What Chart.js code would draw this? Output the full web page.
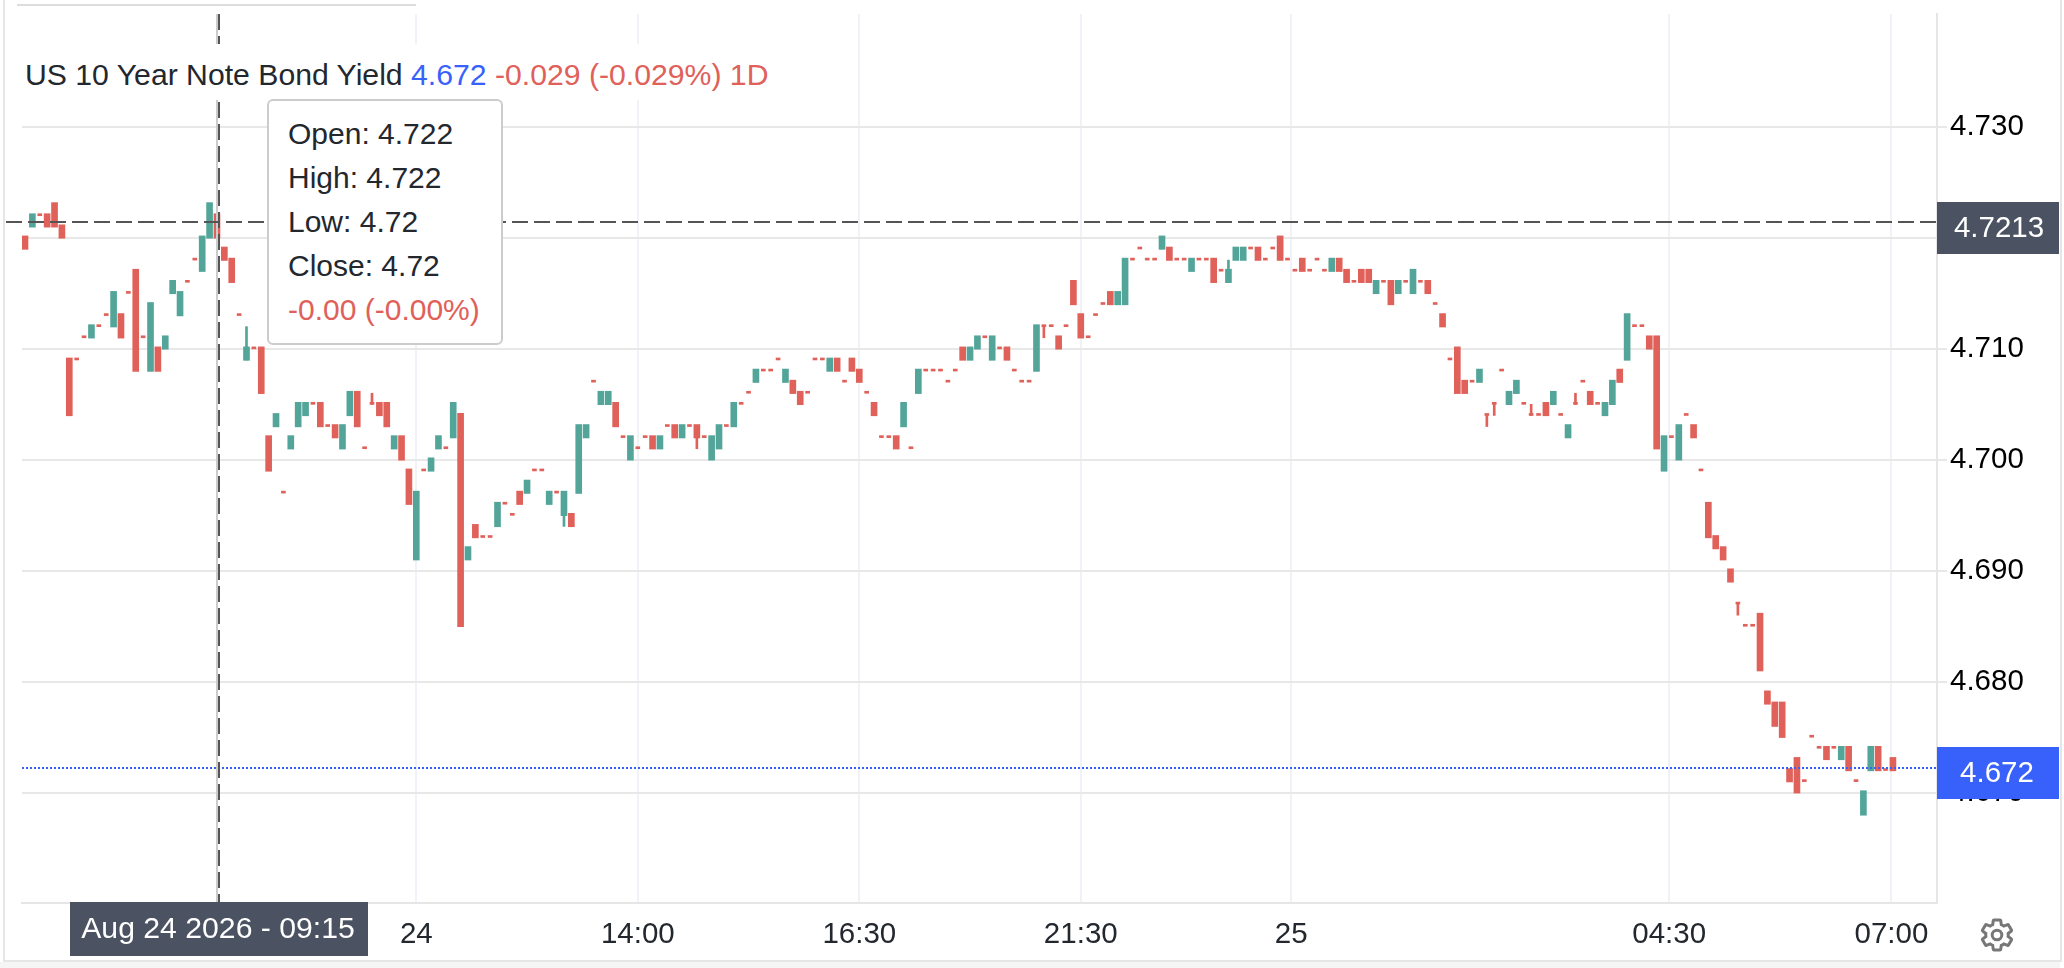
<!DOCTYPE html>
<html>
<head>
<meta charset="utf-8">
<title>US 10 Year Note Bond Yield</title>
<script src="https://cdn.jsdelivr.net/npm/chart.js@4/dist/chart.umd.min.js"></script>
<style>
  html, body { margin: 0; background: #fff; width: 2064px; height: 968px; overflow: hidden; }
  body { position: relative; font-family: "Liberation Sans", Arial, sans-serif; }
  canvas { position: absolute; left: 0; top: 0; }
  .frame { position: absolute; background: #e6e6e6; }
  #footer { position: absolute; left: 0; top: 962px; width: 2060px; height: 6px; background: #f5f5f5; }
  #title { position: absolute; left: 18px; top: 44px; width: 752px; height: 56px; line-height: 62px; padding-left: 7px;
           box-sizing: border-box; background: #fff; font-size: 30.2px; color: #23272e; white-space: nowrap; }
  #title .last { color: #3861fb; }
  #title .chg { color: #e0605a; }
  #tip { position: absolute; left: 267px; top: 99px; width: 236px; height: 246px; box-sizing: border-box; background: #fff;
         border: 2px solid #ccc; border-radius: 6px; padding: 11px 0 0 19px; font-size: 30px; line-height: 44px; color: #23272e; }
  #tip .chg { color: #e0605a; }
  #gear { position: absolute; left: 1979px; top: 917px; }
</style>
</head>
<body>
<canvas id="yieldChart" width="2064" height="968"></canvas>
<div class="frame" style="left:17px;top:4px;width:399px;height:2px;background:#ddd"></div>
<div class="frame" style="left:3px;top:0;width:2px;height:960px"></div>
<div class="frame" style="left:2060px;top:0;width:2px;height:960px"></div>
<div class="frame" style="left:3px;top:960px;width:2059px;height:2px"></div>
<div id="footer"></div>
<div id="title">US 10 Year Note Bond Yield <span class="last">4.672</span> <span class="chg">-0.029 (-0.029%) 1D</span></div>
<div id="tip">
  <div>Open: 4.722</div>
  <div>High: 4.722</div>
  <div>Low: 4.72</div>
  <div>Close: 4.72</div>
  <div class="chg">-0.00 (-0.00%)</div>
</div>
<svg id="gear" width="36" height="36" viewBox="0 0 24 24" fill="none" stroke="#777" stroke-width="2">
  <path d="M19.43 12.98c.04-.32.07-.64.07-.98s-.03-.66-.07-.98l2.11-1.65c.19-.15.24-.42.12-.64l-2-3.46c-.12-.22-.39-.3-.61-.22l-2.49 1c-.52-.4-1.08-.73-1.69-.98l-.38-2.65C14.46 2.18 14.25 2 14 2h-4c-.25 0-.46.18-.49.42l-.38 2.65c-.61.25-1.17.59-1.69.98l-2.49-1c-.23-.09-.49 0-.61.22l-2 3.46c-.13.22-.07.49.12.64l2.11 1.65c-.04.32-.07.65-.07.98s.03.66.07.98l-2.11 1.65c-.19.15-.24.42-.12.64l2 3.46c.12.22.39.3.61.22l2.49-1c.52.4 1.08.73 1.69.98l.38 2.65c.03.24.24.42.49.42h4c.25 0 .46-.18.49-.42l.38-2.65c.61-.25 1.17-.59 1.69-.98l2.49 1c.23.09.49 0 .61-.22l2-3.46c.12-.22.07-.49-.12-.64l-2.11-1.65z"/>
  <circle cx="12" cy="12" r="3.2"/>
</svg>
<script>
// 5 minute bars
const opens = [
  4.720,4.721,4.722,4.722,4.723,4.721,4.709,4.709,4.711,4.711,
  4.712,4.713,4.712,4.713,4.715,4.717,4.711,4.708,4.710,4.710,
  4.715,4.713,4.716,4.718,4.717,4.720,4.722,4.719,4.718,4.713,
  4.709,4.710,4.710,4.702,4.703,4.697,4.701,4.703,4.704,4.705,
  4.705,4.703,4.703,4.701,4.704,4.706,4.701,4.705,4.705,4.705,
  4.701,4.702,4.699,4.691,4.699,4.699,4.701,4.701,4.702,4.704,
  4.691,4.694,4.693,4.693,4.694,4.696,4.695,4.697,4.697,4.699,
  4.699,4.696,4.697,4.695,4.695,4.697,4.702,4.707,4.705,4.705,
  4.705,4.702,4.700,4.701,4.702,4.702,4.701,4.703,4.703,4.702,
  4.703,4.703,4.702,4.700,4.701,4.703,4.703,4.705,4.706,4.707,
  4.708,4.708,4.709,4.707,4.707,4.706,4.706,4.709,4.709,4.708,
  4.709,4.707,4.709,4.708,4.706,4.705,4.702,4.702,4.702,4.703,
  4.701,4.706,4.708,4.708,4.708,4.707,4.708,4.710,4.709,4.710,
  4.711,4.709,4.710,4.710,4.708,4.707,4.707,4.708,4.712,4.712,
  4.711,4.712,4.716,4.713,4.711,4.713,4.714,4.715,4.714,4.714,
  4.718,4.719,4.718,4.718,4.719,4.719,4.718,4.718,4.717,4.718,
  4.718,4.718,4.717,4.716,4.718,4.718,4.719,4.719,4.718,4.719,
  4.720,4.718,4.717,4.718,4.717,4.718,4.717,4.717,4.718,4.717,
  4.716,4.717,4.717,4.715,4.716,4.716,4.715,4.716,4.715,4.716,
  4.716,4.714,4.713,4.709,4.710,4.707,4.707,4.707,4.704,4.705,
  4.708,4.705,4.706,4.705,4.704,4.704,4.705,4.705,4.704,4.702,
  4.705,4.707,4.706,4.705,4.704,4.705,4.708,4.709,4.712,4.712,
  4.711,4.711,4.699,4.702,4.700,4.704,4.703,4.699,4.696,4.693,
  4.692,4.690,4.687,4.685,4.685,4.686,4.679,4.678,4.678,4.672,
  4.673,4.671,4.675,4.674,4.674,4.674,4.673,4.674,4.671,4.668,
  4.672,4.674,4.672,4.673
];
const closes = [
  4.719,4.722,4.722,4.721,4.721,4.720,4.704,4.709,4.711,4.712,
  4.712,4.713,4.715,4.711,4.715,4.708,4.711,4.714,4.708,4.711,
  4.716,4.715,4.716,4.718,4.720,4.723,4.720,4.718,4.716,4.713,
  4.710,4.710,4.706,4.699,4.704,4.697,4.702,4.705,4.705,4.705,
  4.703,4.703,4.702,4.703,4.706,4.703,4.701,4.705,4.704,4.703,
  4.702,4.700,4.696,4.697,4.699,4.700,4.702,4.701,4.705,4.685,
  4.692,4.693,4.693,4.693,4.696,4.696,4.695,4.696,4.698,4.699,
  4.699,4.697,4.697,4.697,4.694,4.703,4.703,4.707,4.706,4.706,
  4.703,4.702,4.702,4.701,4.702,4.701,4.702,4.703,4.702,4.703,
  4.703,4.702,4.702,4.702,4.703,4.703,4.705,4.705,4.706,4.708,
  4.708,4.708,4.709,4.708,4.706,4.705,4.706,4.709,4.709,4.709,
  4.708,4.707,4.708,4.707,4.706,4.704,4.702,4.702,4.701,4.705,
  4.701,4.708,4.708,4.708,4.708,4.707,4.708,4.709,4.710,4.711,
  4.711,4.711,4.710,4.709,4.708,4.707,4.707,4.712,4.712,4.712,
  4.710,4.712,4.714,4.711,4.711,4.713,4.714,4.714,4.715,4.718,
  4.718,4.719,4.718,4.718,4.720,4.718,4.718,4.718,4.718,4.718,
  4.718,4.716,4.717,4.717,4.719,4.719,4.719,4.718,4.718,4.719,
  4.718,4.718,4.717,4.717,4.717,4.718,4.717,4.718,4.717,4.716,
  4.716,4.716,4.716,4.716,4.716,4.714,4.716,4.716,4.717,4.716,
  4.715,4.714,4.712,4.709,4.706,4.706,4.707,4.708,4.704,4.705,
  4.708,4.706,4.707,4.705,4.704,4.704,4.704,4.706,4.704,4.703,
  4.705,4.707,4.705,4.705,4.705,4.707,4.707,4.713,4.712,4.712,
  4.710,4.701,4.702,4.702,4.703,4.704,4.702,4.699,4.693,4.692,
  4.691,4.689,4.687,4.685,4.685,4.681,4.678,4.676,4.675,4.671,
  4.670,4.671,4.675,4.674,4.673,4.674,4.674,4.672,4.671,4.670,
  4.674,4.672,4.672,4.672
];
// only the bars whose wick shows past the body
const wickBars = [30, 47, 73, 91, 138, 163, 198, 199, 204, 210, 232];
const wickEnds = [4.712, 4.706, 4.694, 4.701, 4.711, 4.718, 4.703, 4.704, 4.705, 4.706, 4.686];

const yTicks = [4.73, 4.72, 4.71, 4.70, 4.69, 4.68, 4.67];
const xTickBars = [53, 83, 113, 143, 171.5, 222.7, 252.8];
const xTickLabels = ['24', '14:00', '16:30', '21:30', '25', '04:30', '07:00'];

const lastPrice = 4.6721;
const crossPrice = 4.7213;
const crossBar = 26;
const crossDate = 'Aug 24 2026 - 09:15';

const UP = '#53a59a';
const DOWN = '#e0605a';
const FONT = '"Liberation Sans", Arial, sans-serif';
const PAD_TOP = 0.00018;
const PAD_BOTTOM = 0.00003;

const bodies = [];
const dashes = [];
const wicks = [];
opens.forEach((o, i) => {
  const c = closes[i];
  if (o === c) {
    dashes.push({ x: i, y: [o, o + PAD_TOP] });
  } else {
    bodies.push({ x: i, y: [Math.min(o, c) - PAD_BOTTOM, Math.max(o, c) + PAD_TOP], up: c > o });
  }
});
wickBars.forEach((b, k) => {
  wicks.push({ x: b, y: [Math.min(wickEnds[k], opens[b], closes[b]), Math.max(wickEnds[k], opens[b], closes[b])], up: closes[b] > opens[b] });
});

const overlay = {
  id: 'overlay',
  afterDraw(chart) {
    const { ctx, chartArea, scales } = chart;
    const x = Math.round(scales.x.getPixelForValue(crossBar));
    const y = Math.round(scales.y.getPixelForValue(crossPrice)) - 1;
    const yLast = Math.round(scales.y.getPixelForValue(lastPrice)) - 1;
    ctx.save();
    // last price line
    ctx.strokeStyle = '#3861fb';
    ctx.lineWidth = 2;
    ctx.setLineDash([2, 2]);
    ctx.beginPath();
    ctx.moveTo(chartArea.left, yLast);
    ctx.lineTo(chartArea.right, yLast);
    ctx.stroke();
    // crosshair
    ctx.setLineDash([]);
    ctx.strokeStyle = '#ccc';
    ctx.beginPath();
    ctx.moveTo(x, chartArea.top);
    ctx.lineTo(x, chartArea.bottom);
    ctx.stroke();
    ctx.strokeStyle = '#555';
    ctx.setLineDash([16, 6]);
    ctx.beginPath();
    ctx.moveTo(x + 2, chartArea.top);
    ctx.lineTo(x + 2, chartArea.bottom);
    ctx.moveTo(6, y);
    ctx.lineTo(chartArea.right, y);
    ctx.stroke();
    ctx.setLineDash([]);
    // tags
    ctx.font = '29.5px ' + FONT;
    ctx.textAlign = 'center';
    ctx.textBaseline = 'middle';
    ctx.fillStyle = '#4b5261';
    ctx.fillRect(chartArea.right, 202, 122, 52);
    ctx.fillRect(70, chartArea.bottom - 1, 298, 54);
    ctx.fillStyle = '#3861fb';
    ctx.fillRect(chartArea.right, 747, 122, 52);
    ctx.fillStyle = '#fff';
    ctx.fillText(crossPrice.toFixed(4), chartArea.right + 62, 229);
    ctx.fillText(lastPrice.toFixed(3), chartArea.right + 60, 774);
    ctx.font = '30.2px ' + FONT;
    ctx.fillText(crossDate, 218, chartArea.bottom + 27);
    ctx.restore();
  }
};

new Chart(document.getElementById('yieldChart'), {
  type: 'bar',
  data: {
    datasets: [
      { data: wicks, barThickness: 2, grouped: false, backgroundColor: c => c.raw && c.raw.up ? UP : DOWN },
      { data: bodies, barThickness: 6, grouped: false, backgroundColor: c => c.raw && c.raw.up ? UP : DOWN },
      { data: dashes, barThickness: 4, grouped: false, backgroundColor: DOWN }
    ]
  },
  options: {
    responsive: false,
    animation: false,
    events: [],
    layout: { padding: { left: 22, top: 14, right: 0, bottom: 0 } },
    plugins: { legend: { display: false }, tooltip: { enabled: false }, title: { display: false } },
    scales: {
      x: {
        type: 'linear',
        offset: false,
        min: -0.406,
        max: 258.97,
        afterBuildTicks: s => { s.ticks = xTickBars.map(v => ({ value: v })); },
        afterFit: s => { s.height = 65; s.paddingLeft = 0; s.paddingRight = 0; },
        grid: { offset: false, color: '#eff2f7', lineWidth: 2, drawTicks: false },
        border: { color: '#e6e6e6', width: 2 },
        ticks: {
          autoSkip: false,
          maxRotation: 0,
          padding: 14,
          color: '#23272e',
          font: { family: FONT, size: 29.5 },
          callback: (v, i) => xTickLabels[i]
        }
      },
      y: {
        position: 'right',
        min: 4.66006,
        max: 4.74018,
        afterBuildTicks: s => { s.ticks = yTicks.map(v => ({ value: v })); },
        afterFit: s => { s.width = 127; s.paddingTop = 0; s.paddingBottom = 0; },
        grid: { color: '#e8e8e8', lineWidth: 2, tickLength: 10 },
        border: { color: '#e6e6e6', width: 2 },
        ticks: {
          padding: 3,
          color: '#000',
          font: { family: FONT, size: 29.5 },
          callback: v => v.toFixed(3)
        }
      }
    }
  },
  plugins: [overlay]
});
</script>
</body>
</html>
